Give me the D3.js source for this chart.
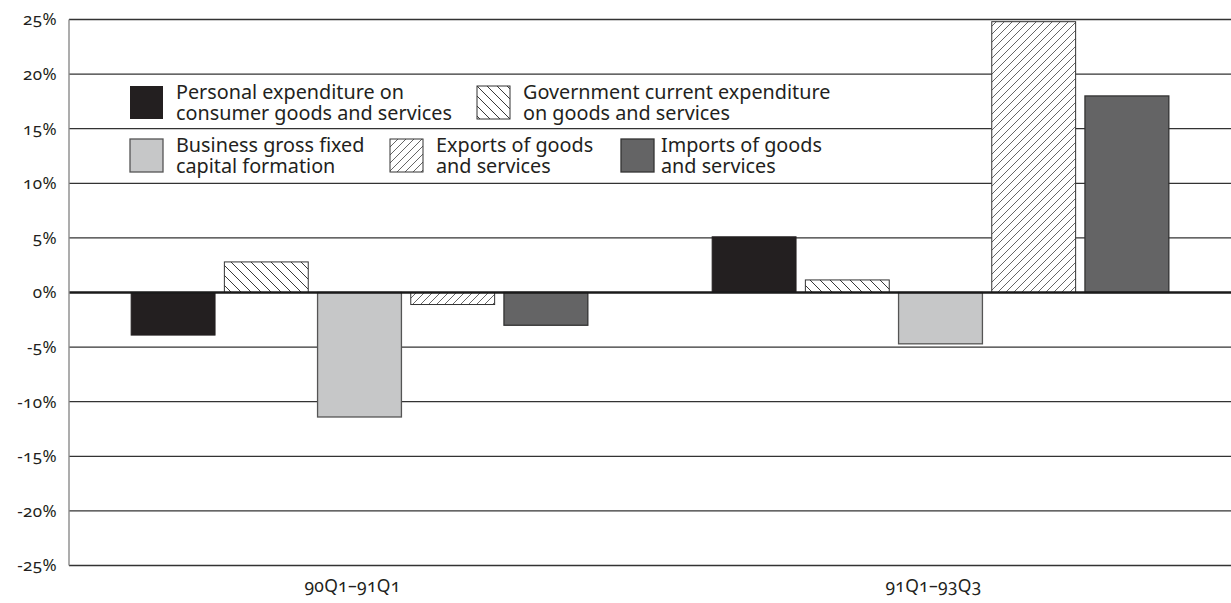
<!DOCTYPE html>
<html>
<head>
<meta charset="utf-8">
<script src="https://cdn.jsdelivr.net/npm/d3@7"></script>
<style>
  html, body { margin: 0; padding: 0; background: #fff; }
  svg { display: block; font-family: "Noto Sans", "Open Sans", sans-serif; font-variant-numeric: oldstyle-nums; font-feature-settings: "onum" 1; }
</style>
</head>
<body>
<svg id="chart" width="1231" height="603"></svg>
<script>
// Periods compared
const categories = ["90Q1–91Q1", "91Q1–93Q3"];

// Percentage change of each GDP component over the period
const personal   = [-3.9, 5.1];
const government = [2.8, 1.15];
const business   = [-11.4, -4.7];
const exports    = [-1.1, 24.8];
const imports    = [-3.0, 18.0];

// Y-axis ticks (percent)
const yTicks = [-25, -20, -15, -10, -5, 0, 5, 10, 15, 20, 25];

const series = [
  { key: "personal",   lines: ["Personal expenditure on", "consumer goods and services"], values: personal },
  { key: "government", lines: ["Government current expenditure", "on goods and services"], values: government },
  { key: "business",   lines: ["Business gross fixed", "capital formation"], values: business },
  { key: "exports",    lines: ["Exports of goods", "and services"], values: exports },
  { key: "imports",    lines: ["Imports of goods", "and services"], values: imports }
];

const styles = {
  personal:   { fill: "#231f20", stroke: "#231f20", sw: 1 },
  government: { fill: "url(#hatchBack)", stroke: "#333", sw: 1 },
  business:   { fill: "#c6c7c8", stroke: "#555", sw: 1.3 },
  exports:    { fill: "url(#hatchFwd)", stroke: "#333", sw: 1 },
  imports:    { fill: "#646465", stroke: "#333", sw: 1.3 }
};

const svg = d3.select("#chart");
const plot = { left: 69, right: 1231, top: 19.5, bottom: 565.5 };

// Hatch patterns
const defs = svg.append("defs");
const back = defs.append("pattern").attr("id", "hatchBack")
  .attr("patternUnits", "userSpaceOnUse").attr("width", 10).attr("height", 10);
back.append("rect").attr("width", 10).attr("height", 10).attr("fill", "#fff");
back.append("path").attr("d", "M0,0L10,10M-3,7L3,13M7,-3L13,3")
  .attr("stroke", "#222").attr("stroke-width", 0.9);

const fwd = defs.append("pattern").attr("id", "hatchFwd")
  .attr("patternUnits", "userSpaceOnUse").attr("width", 8).attr("height", 8);
fwd.append("rect").attr("width", 8).attr("height", 8).attr("fill", "#fff");
fwd.append("path").attr("d", "M0,8L8,0M-2,2L2,-2M6,10L10,6")
  .attr("stroke", "#333").attr("stroke-width", 0.75);

// Scales
const y = d3.scaleLinear().domain([-25, 25]).range([plot.bottom, plot.top]);
const x0 = d3.scaleBand().domain(categories).range([plot.left, plot.right]).padding(0);
const x1 = d3.scaleBand().domain(series.map(s => s.key))
  .range([x0.bandwidth() * 0.107, x0.bandwidth() * 0.893]).paddingInner(0.1);

// Gridlines
svg.append("g").selectAll("line").data(yTicks.filter(t => t !== 0)).join("line")
  .attr("x1", plot.left).attr("x2", plot.right)
  .attr("y1", d => y(d)).attr("y2", d => y(d))
  .attr("stroke", "#333").attr("stroke-width", 1.3);

// Y axis labels
const yAxis = d3.axisLeft(y).tickValues(yTicks).tickFormat(d => d + "%").tickSize(0).tickPadding(12);
const yg = svg.append("g").attr("transform", `translate(${plot.left},0)`).call(yAxis);
yg.select(".domain").remove();
yg.selectAll("text").attr("font-size", 17).attr("letter-spacing", 0.4).attr("fill", "#231f20")
  .attr("font-family", "'Noto Sans', sans-serif");

// Bars
const groups = svg.append("g").selectAll("g").data(categories).join("g")
  .attr("transform", d => `translate(${x0(d)},0)`);
groups.selectAll("rect")
  .data((c, i) => series.map(s => ({ key: s.key, value: s.values[i] })))
  .join("rect")
  .attr("x", d => x1(d.key))
  .attr("width", x1.bandwidth())
  .attr("y", d => y(Math.max(0, d.value)))
  .attr("height", d => Math.abs(y(d.value) - y(0)))
  .attr("fill", d => styles[d.key].fill)
  .attr("stroke", d => styles[d.key].stroke)
  .attr("stroke-width", d => styles[d.key].sw);

// Zero line and left axis line
svg.append("line").attr("x1", plot.left).attr("x2", plot.right)
  .attr("y1", y(0)).attr("y2", y(0)).attr("stroke", "#1a1a1a").attr("stroke-width", 2.4);
svg.append("line").attr("x1", plot.left).attr("x2", plot.left)
  .attr("y1", plot.top).attr("y2", plot.bottom).attr("stroke", "#8a8a8a").attr("stroke-width", 1.4);

// Category labels
const xAxis = d3.axisBottom(x0).tickSize(0).tickPadding(14);
const xg = svg.append("g").attr("transform", `translate(0,${plot.bottom})`).call(xAxis);
xg.select(".domain").remove();
xg.selectAll("text").attr("font-size", 17.5).attr("letter-spacing", 0.3).attr("fill", "#231f20")
  .attr("dx", -7).attr("font-family", "'Noto Sans', sans-serif");

// Legend
const legendPos = {
  personal:   { x: 130, y: 86 },
  government: { x: 477, y: 86 },
  business:   { x: 130, y: 139 },
  exports:    { x: 390, y: 139 },
  imports:    { x: 621, y: 139 }
};
const lg = svg.append("g").selectAll("g").data(series).join("g")
  .attr("transform", d => `translate(${legendPos[d.key].x},${legendPos[d.key].y})`);
lg.append("rect").attr("width", 33).attr("height", 33)
  .attr("fill", d => styles[d.key].fill)
  .attr("stroke", d => d.key === "personal" ? "none" : styles[d.key].stroke)
  .attr("stroke-width", d => styles[d.key].sw);
lg.append("text").attr("x", d => d.key === "imports" ? 40 : 46).attr("y", 13)
  .attr("font-size", 19.8).attr("fill", "#231f20")
  .selectAll("tspan").data(d => d.lines).join("tspan")
  .attr("x", function () { return d3.select(this.parentNode).attr("x"); })
  .attr("dy", (d, i) => i === 0 ? 0 : 21)
  .text(d => d);
</script>
</body>
</html>
